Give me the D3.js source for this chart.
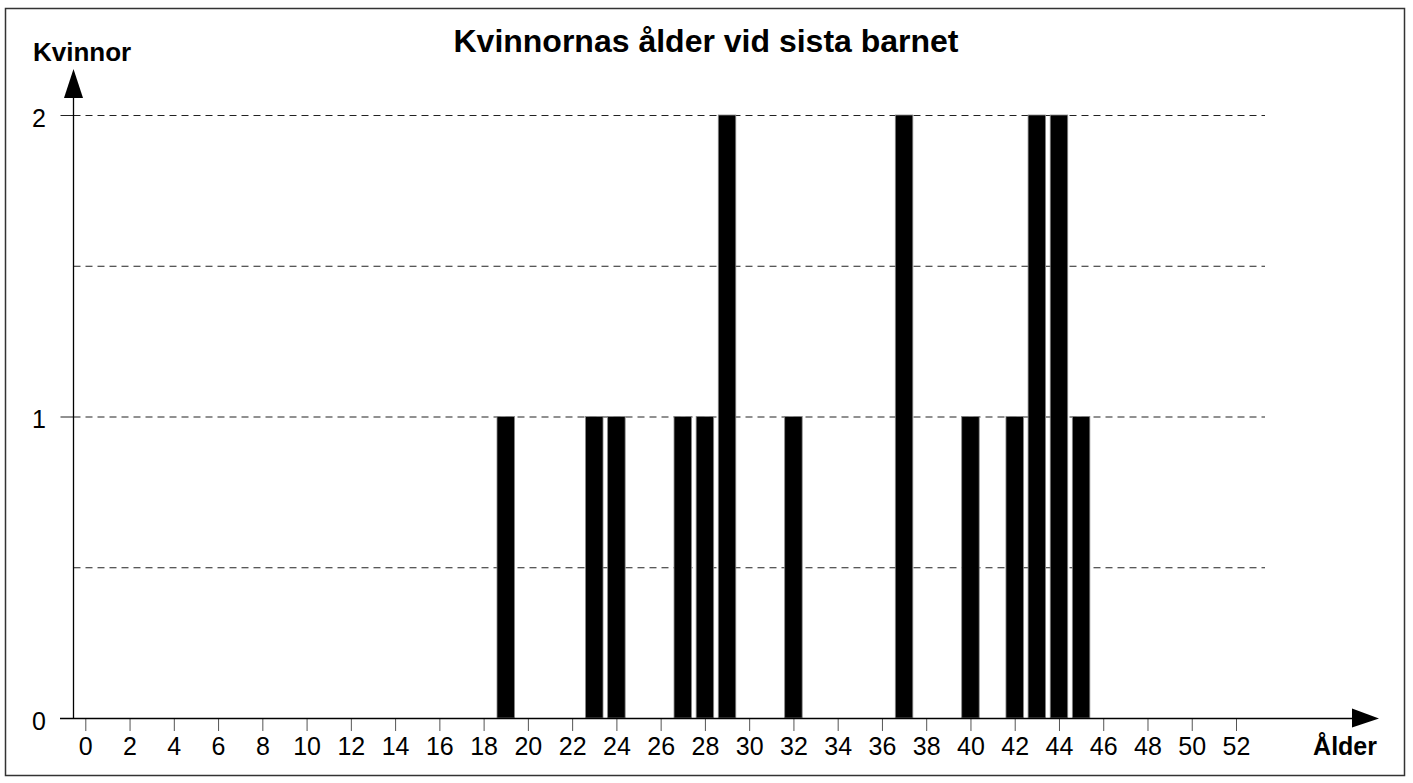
<!DOCTYPE html>
<html>
<head>
<meta charset="utf-8">
<script src="https://cdn.jsdelivr.net/npm/d3@7"></script>
<style>
  body { margin: 0; background: #fff; }
  text { font-family: "Liberation Sans", Arial, sans-serif; fill: #000; }
</style>
</head>
<body>
<div id="chart"></div>
<script>
(function() {
// ages (years) and number of women for each
var ages   = [19, 23, 24, 27, 28, 29, 32, 37, 40, 42, 43, 44, 45];
var counts = [ 1,  1,  1,  1,  1,  2,  1,  2,  1,  1,  2,  2,  1];

var xTicks = d3.range(0, 53, 2);
var yTicks = [0, 1, 2];
var gridValues = [0.5, 1, 1.5, 2];

var title  = "Kvinnornas ålder vid sista barnet";
var yTitle = "Kvinnor";
var xTitle = "Ålder";

var width = 1413, height = 783;

var svg = d3.select("#chart").append("svg")
            .attr("width", width)
            .attr("height", height);

// outer frame
svg.append("rect")
   .attr("x", 5.5).attr("y", 8.5)
   .attr("width", 1399).attr("height", 767)
   .attr("fill", "none")
   .attr("stroke", "#333")
   .attr("stroke-width", 1.5);

var xScale = d3.scaleLinear().domain([0, 52]).range([85.3, 1236]);
var yScale = d3.scaleLinear().domain([0, 2]).range([718, 115]);

var axisX = 73.5;   // y axis sits here
var barWidth = 17.5;

// dashed grid
svg.append("g").selectAll("line")
   .data(gridValues)
   .join("line")
   .attr("x1", axisX).attr("x2", 1265)
   .attr("y1", function(d) { return yScale(d) + 0.5; })
   .attr("y2", function(d) { return yScale(d) + 0.5; })
   .attr("stroke", "#222")
   .attr("stroke-width", 1)
   .attr("stroke-dasharray", "7,5");

// bars
svg.append("g").selectAll("rect")
   .data(ages)
   .join("rect")
   .attr("x", function(d) { return xScale(d) - barWidth / 2; })
   .attr("y", function(d, i) { return yScale(counts[i]); })
   .attr("width", barWidth)
   .attr("height", function(d, i) { return yScale(0) - yScale(counts[i]); })
   .attr("fill", "#000")
   .attr("stroke", "#888")
   .attr("stroke-width", 0.8);

// x axis
var xAxis = d3.axisBottom(xScale)
              .tickValues(xTicks)
              .tickSize(13)
              .tickPadding(6.5)
              .tickSizeOuter(0);
var xg = svg.append("g")
            .attr("transform", "translate(0," + 718 + ")")
            .call(xAxis);
xg.select(".domain").remove();
xg.selectAll(".tick line").attr("stroke", "#555");
xg.selectAll(".tick text")
  .attr("font-size", 25)
  .attr("font-family", "Liberation Sans, Arial, sans-serif");

// y axis
var yAxis = d3.axisLeft(yScale)
              .tickValues(yTicks)
              .tickFormat(d3.format("d"))
              .tickSize(13)
              .tickPadding(14.5)
              .tickSizeOuter(0);
var yg = svg.append("g")
            .attr("transform", "translate(" + axisX + ",0)")
            .call(yAxis);
yg.select(".domain").remove();
yg.selectAll(".tick line").attr("stroke", "#222");
yg.selectAll(".tick text")
  .attr("font-size", 25)
  .attr("dy", "0.44em")
  .attr("font-family", "Liberation Sans, Arial, sans-serif");

// axis lines with arrows
svg.append("line")
   .attr("x1", 60).attr("x2", 1360)
   .attr("y1", 718.5).attr("y2", 718.5)
   .attr("stroke", "#000").attr("stroke-width", 1.3);
svg.append("path")
   .attr("d", "M1352,708.5 L1379,718.5 L1352,727.5 Z")
   .attr("fill", "#000");

svg.append("line")
   .attr("x1", axisX).attr("x2", axisX)
   .attr("y1", 718).attr("y2", 90)
   .attr("stroke", "#000").attr("stroke-width", 1.3);
svg.append("path")
   .attr("d", "M64," + 98 + " L" + axisX + ",69 L83,98 Z")
   .attr("fill", "#000");

// titles
svg.append("text")
   .attr("x", 706).attr("y", 52)
   .attr("text-anchor", "middle")
   .attr("font-size", 32)
   .attr("font-weight", "bold")
   .text(title);

svg.append("text")
   .attr("x", 33).attr("y", 61)
   .attr("font-size", 26)
   .attr("font-weight", "bold")
   .text(yTitle);

svg.append("text")
   .attr("x", 1377).attr("y", 755)
   .attr("text-anchor", "end")
   .attr("font-size", 25)
   .attr("font-weight", "bold")
   .text(xTitle);
})();
</script>
</body>
</html>
